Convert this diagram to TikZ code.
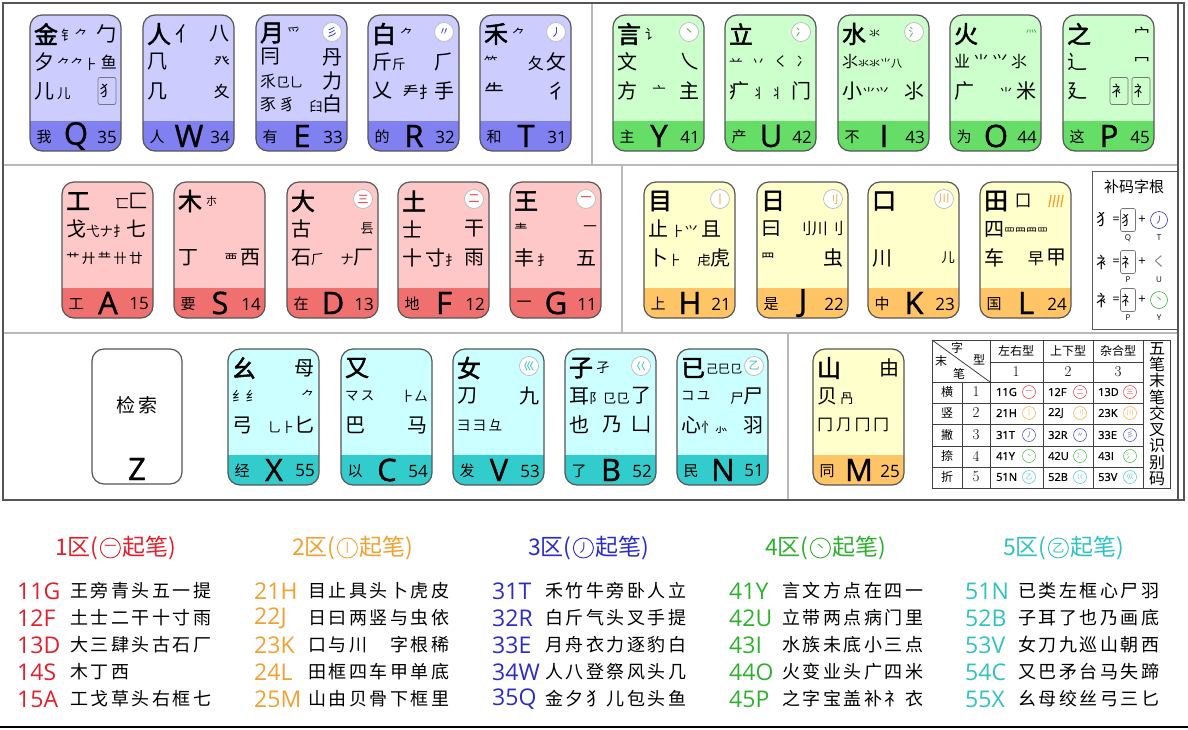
\documentclass[tikz,border=0pt]{standalone}
\usepackage{fontspec}
\usepackage{tikz}
\usetikzlibrary{positioning}

\newfontfamily\cjk{Noto Sans CJK SC}
\newfontfamily\cjkb{Noto Sans CJK SC}[FakeBold=2]
\newfontfamily\cjkw{Noto Sans CJK SC}[LetterSpace=14]
\newfontfamily\lat{Open Sans}
\newfontfamily\latb{Open Sans}[FakeBold=1]

% key colours: light face, dark band, stroke text
\definecolor{bluelt}{HTML}{CCCCFF}
\definecolor{bluedk}{HTML}{8080F0}
\definecolor{bluetx}{HTML}{2B2BC8}
\definecolor{grnlt}{HTML}{CCFFCC}
\definecolor{grndk}{HTML}{66DD66}
\definecolor{grntx}{HTML}{2DB02D}
\definecolor{redlt}{HTML}{FFC8C8}
\definecolor{reddk}{HTML}{F07070}
\definecolor{redtx}{HTML}{E41E2A}
\definecolor{ylwlt}{HTML}{FFFFCC}
\definecolor{ylwdk}{HTML}{FFC466}
\definecolor{ylwtx}{HTML}{F2A030}
\definecolor{cyanlt}{HTML}{CCFFFF}
\definecolor{cyandk}{HTML}{33CCCC}
\definecolor{cyantx}{HTML}{2EC2C0}
\definecolor{edge}{HTML}{555555}

\newcommand\rmd{\fontsize{16}{16}\selectfont}
\newcommand\rsm{\fontsize{13.5}{13.5}\selectfont}
\newcommand\rtn{\fontsize{11}{11}\selectfont}
\newcommand\rgap{\hspace{3pt}}

\tikzset{
  keyedge/.style={draw=edge, line width=1.2pt, rounded corners=12pt},
  keyword/.style={font=\cjk\fontsize{15}{15}\selectfont, inner sep=0pt},
  keyletter/.style={font=\latb\fontsize{31}{31}\selectfont, inner sep=0pt},
  keynum/.style={font=\lat\fontsize{17}{17}\selectfont, inner sep=0pt},
  big/.style={font=\cjkb\fontsize{24}{24}\selectfont, inner sep=0pt},
  rad/.style={font=\cjk\fontsize{20}{20}\selectfont, inner sep=0pt},
  lrad/.style={rad, anchor=west},
  rrad/.style={rad, anchor=east},
  boxrad/.style={rad, draw=edge!80, line width=0.7pt, rounded corners=2pt,
    minimum width=18pt, minimum height=27pt, font=\cjk\fontsize{15}{15}\selectfont},
  strk/.style={circle, draw=gray!55, fill=white, line width=0.7pt, minimum size=19pt,
    inner sep=0pt, font=\cjk\fontsize{11}{11}\selectfont, text=#1},
  sepline/.style={draw=gray!55, line width=1.3pt},
  frameline/.style={draw=edge, line width=1.5pt},
  tblline/.style={draw=black!75, line width=0.8pt},
  tcjk/.style={font=\cjk\fontsize{12}{12}\selectfont, inner sep=0pt},
  tnum/.style={font=\rmfamily\fontsize{15}{15}\selectfont, inner sep=0pt},
  tcode/.style={font=\latb\fontsize{11}{11}\selectfont, inner sep=0pt, anchor=west},
  tsym/.style={circle, draw=#1, text=#1, line width=0.6pt, minimum size=13pt,
    inner sep=0pt, font=\cjk\fontsize{7}{7}\selectfont},
  bmtext/.style={font=\lat\fontsize{13}{13}\selectfont, inner sep=0pt},
  bmkey/.style={font=\lat\fontsize{8}{8}\selectfont, inner sep=0pt},
  head/.style={font=\cjk\fontsize{23}{23}\selectfont, text=#1, inner sep=0pt},
  hsym/.style={circle, draw=#1, text=#1, line width=0.9pt, minimum size=20pt,
    inner sep=0pt, font=\cjk\fontsize{12}{12}\selectfont},
  hcode/.style={font=\lat\fontsize{23}{23}\selectfont, text=#1, inner sep=0pt, anchor=west},
  hdesc/.style={font=\cjkw\fontsize{18}{18}\selectfont, inner sep=0pt, anchor=west},
}

% one key: letter, x, y, palette, word, code, radicals
\newcommand\keycap[7]{%
  \begin{scope}[shift={(#2,#3)}]
    \fill[#4lt, rounded corners=12pt] (0,0) rectangle (91,136);
    \begin{scope}
      \clip[rounded corners=12pt] (0,0) rectangle (91,136);
      \fill[#4dk] (0,106) rectangle (91,136);
    \end{scope}
    \draw[keyedge] (0,0) rectangle (91,136);
    \node[keyword] (#1w) at (14,122) {#5};
    \node[keyletter] (#1) at (46,121) {#1};
    \node[keynum] (#1n) at (77,122) {#6};
    #7
  \end{scope}}

\begin{document}
\begin{tikzpicture}[x=1pt, y=-1pt]
    \useasboundingbox (0,0) rectangle (1188,729);

    % Frame and separators
    \draw[frameline] (3,3) rectangle (1184,500);
    \draw[frameline] (1178,3) -- (1178,500);
    \draw[sepline] (4,165) -- (1177,165);
    \draw[sepline] (4,333) -- (1177,333);
    \draw[sepline] (592,4) -- (592,165);
    \draw[sepline] (622,165) -- (622,333);
    \draw[sepline] (788,333) -- (788,499);

    % Top row
    \keycap{Q}{30}{15}{blue}{我}{35}{
      \node[big] (Qa) at (16,19) {金};
      \node[lrad] (Qb) at (31,20) {\rsm 钅⺈};
      \node[rrad] (Qc) at (87,19) {勹};
      \node[lrad] (Qd) at (4,47) {夕\rgap{\rsm ⺈⺈⺊}};
      \node[rrad] (Qe) at (87,47) {\rmd ⻥};
      \node[lrad] (Qf) at (4,76) {儿\rgap{\rsm 儿}};
      \node[boxrad] (Qg) at (77,76) {犭};}
    \keycap{W}{143}{15}{blue}{人}{34}{
      \node[big] (Wa) at (16,19) {人};
      \node[lrad] (Wb) at (32,19) {亻};
      \node[rrad] (Wc) at (87,19) {八};
      \node[lrad] (Wd) at (4,47) {⺇};
      \node[rrad] (We) at (87,47) {\rmd 癶};
      \node[lrad] (Wf) at (4,76) {几};
      \node[rrad] (Wg) at (87,76) {\rmd 夊};}
    \keycap{E}{256}{15}{blue}{有}{33}{
      \node[big] (Ea) at (16,18) {月};
      \node[lrad] (Eb) at (31,18) {\rsm ⺤};
      \node[strk=bluetx] (Ec) at (76,17) {彡};
      \node[lrad] (Ed) at (4,42) {冃};
      \node[rrad] (Ee) at (87,42) {丹};
      \node[lrad] (Ef) at (4,66) {\rmd 乑{\rsm ⺋⺃}};
      \node[rrad] (Eg) at (87,66) {力};
      \node[lrad] (Eh) at (4,89) {\rmd 豕\rgap 豸};
      \node[rrad] (Ei) at (87,89) {{\rsm ⺽}白};}
    \keycap{R}{368}{15}{blue}{的}{32}{
      \node[big] (Ra) at (16,19) {白};
      \node[lrad] (Rb) at (32,19) {\rsm ⺈};
      \node[strk=bluetx] (Rc) at (76,17) {〃};
      \node[lrad] (Rd) at (4,47) {斤{\rsm 斤}};
      \node[rrad] (Re) at (87,47) {⺁};
      \node[lrad] (Rf) at (4,76) {乂};
      \node[rrad] (Rg) at (87,76) {{\rmd 龵扌}手};}
    \keycap{T}{480}{15}{blue}{和}{31}{
      \node[big] (Ta) at (16,19) {禾};
      \node[lrad] (Tb) at (32,19) {\rsm ⺈};
      \node[strk=bluetx] (Tc) at (76,17) {丿};
      \node[lrad] (Td) at (4,47) {\rsm ⺮};
      \node[rrad] (Te) at (87,47) {{\rmd 夂}\rgap 攵};
      \node[lrad] (Tf) at (4,76) {⺧};
      \node[rrad] (Tg) at (87,76) {彳};}
    \keycap{Y}{613}{15}{grn}{主}{41}{
      \node[big] (Ya) at (16,19) {言};
      \node[lrad] (Yb) at (32,19) {\rsm 讠};
      \node[strk=grntx] (Yc) at (76,17) {丶};
      \node[lrad] (Yd) at (4,47) {文};
      \node[rrad] (Ye) at (87,47) {乀};
      \node[lrad] (Yf) at (4,76) {方};
      \node[rad] (Yg) at (46,76) {\rsm 亠};
      \node[rrad] (Yh) at (87,76) {主};}
    \keycap{U}{725}{15}{grn}{产}{42}{
      \node[big] (Ua) at (16,19) {立};
      \node[strk=grntx] (Ub) at (76,17) {冫};
      \node[lrad] (Uc) at (4,47) {\rsm 䒑\hspace{9pt}丷\hspace{9pt}く\hspace{9pt}冫};
      \node[lrad] (Ud) at (4,76) {疒\rgap{\rsm 丬\hspace{5pt}丬}};
      \node[rrad] (Ue) at (87,76) {门};}
    \keycap{I}{838}{15}{grn}{不}{43}{
      \node[big] (Ia) at (16,19) {水};
      \node[lrad] (Ib) at (31,19) {\rtn 氺};
      \node[strk=grntx] (Ic) at (76,17) {氵};
      \node[lrad] (Id) at (4,47) {{\rmd ⺢}{\rtn 氺氺⺌八}};
      \node[lrad] (Ie) at (4,76) {小{\rsm ⺌⺍}};
      \node[rrad] (If) at (87,76) {⺢};}
    \keycap{O}{950}{15}{grn}{为}{44}{
      \node[big] (Oa) at (16,19) {火};
      \node[rrad] (Ob) at (87,17) {\rtn\color{grntx}灬};
      \node[lrad] (Oc) at (4,47) {\rmd 业\rgap⺌\rgap⺍\rgap⺢};
      \node[lrad] (Od) at (4,76) {广};
      \node[rrad] (Oe) at (87,76) {{\rsm ⺌}\hspace{4pt}米};}
    \keycap{P}{1063}{15}{grn}{这}{45}{
      \node[big] (Pa) at (16,19) {之};
      \node[rrad] (Pb) at (87,19) {\rmd 宀};
      \node[lrad] (Pc) at (4,47) {辶};
      \node[rrad] (Pd) at (87,47) {\rmd 冖};
      \node[lrad] (Pe) at (4,76) {廴};
      \node[boxrad] (Pf) at (56,76) {衤};
      \node[boxrad] (Pg) at (78,76) {礻};}

    % Middle row
    \keycap{A}{62}{182}{red}{工}{15}{
      \node[big] (Aa) at (16,19) {工};
      \node[rrad] (Ab) at (87,19) {{\rsm 匸}匚};
      \node[lrad] (Ac) at (4,47) {戈{\rsm 弋ナ⺘}七};
      \node[lrad] (Ad) at (4,76) {\rsm 艹\,廾\,龷\,卄\,廿};}
    \keycap{S}{174}{182}{red}{要}{14}{
      \node[big] (Sa) at (16,19) {木};
      \node[lrad] (Sb) at (32,19) {\rtn 朩};
      \node[lrad] (Sc) at (4,76) {丁};
      \node[rrad] (Sd) at (87,76) {{\rsm 覀}\rgap 西};}
    \keycap{D}{287}{182}{red}{在}{13}{
      \node[big] (Da) at (16,19) {大};
      \node[strk=redtx] (Db) at (76,17) {三};
      \node[lrad] (Dc) at (4,47) {古};
      \node[rrad] (Dd) at (87,47) {\rsm 镸};
      \node[lrad] (De) at (4,76) {石{\rsm ⺁}};
      \node[rrad] (Df) at (87,76) {{\rsm ナ}厂};}
    \keycap{F}{398}{182}{red}{地}{12}{
      \node[big] (Fa) at (16,19) {土};
      \node[strk=redtx] (Fb) at (76,17) {二};
      \node[lrad] (Fc) at (4,47) {士};
      \node[rrad] (Fd) at (87,47) {干};
      \node[lrad] (Fe) at (4,76) {十\rgap 寸{\rsm 扌}};
      \node[rrad] (Ff) at (87,76) {雨};}
    \keycap{G}{510}{182}{red}{一}{11}{
      \node[big] (Ga) at (16,19) {王};
      \node[strk=redtx] (Gb) at (76,17) {一};
      \node[lrad] (Gc) at (4,47) {\rsm 龶};
      \node[rrad] (Gd) at (87,47) {\rsm 一};
      \node[lrad] (Ge) at (4,76) {丰\rgap{\rsm ⺘}};
      \node[rrad] (Gf) at (87,76) {五};}
    \keycap{H}{644}{182}{ylw}{上}{21}{
      \node[big] (Ha) at (16,19) {目};
      \node[strk=ylwtx] (Hb) at (76,17) {丨};
      \node[lrad] (Hc) at (4,47) {止\rgap{\rsm ⺊⺍}\rgap 且};
      \node[lrad] (Hd) at (4,76) {卜{\rsm ⺊}};
      \node[rrad] (He) at (87,76) {{\rsm 虍}⻁};}
    \keycap{J}{757}{182}{ylw}{是}{22}{
      \node[big] (Ja) at (16,19) {日};
      \node[strk=ylwtx] (Jb) at (76,17) {刂};
      \node[lrad] (Jc) at (4,47) {曰};
      \node[rrad] (Jd) at (87,47) {\rmd 刂川刂};
      \node[lrad] (Je) at (4,76) {\rsm ⺫};
      \node[rrad] (Jf) at (87,76) {虫};}
    \keycap{K}{868}{182}{ylw}{中}{23}{
      \node[big] (Ka) at (16,19) {口};
      \node[strk=ylwtx] (Kb) at (76,17) {川};
      \node[lrad] (Kc) at (4,76) {川};
      \node[rrad] (Kd) at (87,76) {\rsm 儿};}
    \keycap{L}{980}{182}{ylw}{国}{24}{
      \node[big] (La) at (16,19) {田};
      \node[rad] (Lb) at (43,19) {\rmd 囗};
      \draw[ylwtx, line width=1.3pt] (69,25) -- (71,13) (73,25) -- (75,13) (77,25) -- (79,13) (81,25) -- (83,13);
      \node[lrad] (Lc) at (4,47) {四{\rtn 罒⺲⺫罒}};
      \node[lrad] (Ld) at (4,76) {车};
      \node[rrad] (Le) at (87,76) {{\rmd 早}\rgap 甲};}

    % Supplement radicals
    \draw[frameline, line width=1pt] (1092,171) rectangle (1177,329);
    \node[font=\cjk\fontsize{15}{15}\selectfont, inner sep=0pt] (bmt) at (1134,187) {补码字根};
    \node[rad, font=\cjk\rmd] (bm1a) at (1104,220) {犭};
    \node[bmtext] (bm1b) at (1116,220) {=};
    \node[boxrad, minimum width=15pt, minimum height=23pt, font=\cjk\rsm] (bm1c) at (1128,220) {犭};
    \node[bmtext] (bm1d) at (1142,220) {+};
    \node[tsym=bluetx, minimum size=17pt, font=\cjk\fontsize{9}{9}\selectfont] (bm1e) at (1159,220) {丿};
    \node[bmkey] (bm1f) at (1128,238) {Q};
    \node[bmkey] (bm1g) at (1159,238) {T};
    \node[rad, font=\cjk\rmd] (bm2a) at (1104,262) {衤};
    \node[bmtext] (bm2b) at (1116,262) {=};
    \node[boxrad, minimum width=15pt, minimum height=23pt, font=\cjk\rsm] (bm2c) at (1128,262) {礻};
    \node[bmtext] (bm2d) at (1142,262) {+};
    \node[font=\cjk\rsm, text=gray, inner sep=0pt] (bm2e) at (1159,262) {く};
    \node[bmkey] (bm2f) at (1128,280) {P};
    \node[bmkey] (bm2g) at (1159,280) {U};
    \node[rad, font=\cjk\rmd] (bm3a) at (1104,300) {衤};
    \node[bmtext] (bm3b) at (1116,300) {=};
    \node[boxrad, minimum width=15pt, minimum height=23pt, font=\cjk\rsm] (bm3c) at (1128,300) {礻};
    \node[bmtext] (bm3d) at (1142,300) {+};
    \node[tsym=grntx, minimum size=17pt, font=\cjk\fontsize{9}{9}\selectfont] (bm3e) at (1159,300) {丶};
    \node[bmkey] (bm3f) at (1128,318) {P};
    \node[bmkey] (bm3g) at (1159,318) {Y};

    % Bottom row
    \begin{scope}[shift={(92,349)}]
      \fill[white, rounded corners=12pt] (0,0) rectangle (90,135);
      \draw[keyedge] (0,0) rectangle (90,135);
      \node[font=\cjk\fontsize{19}{19}\selectfont, inner sep=0pt] (Zt) at (45,56) {检\hspace{4pt}索};
      \node[keyletter] (Z) at (45,120) {Z};
    \end{scope}
    \keycap{X}{228}{349}{cyan}{经}{55}{
      \node[big] (Xa) at (16,19) {幺};
      \node[rrad] (Xb) at (87,19) {母};
      \node[lrad] (Xc) at (4,47) {\rsm 纟纟};
      \node[rrad] (Xd) at (87,47) {\rsm ⺈};
      \node[lrad] (Xe) at (4,76) {弓};
      \node[rrad] (Xf) at (87,76) {{\rsm 乚⺊}匕};}
    \keycap{C}{341}{349}{cyan}{以}{54}{
      \node[big] (Ca) at (16,19) {又};
      \node[lrad] (Cb) at (4,47) {\rsm マ\,ス};
      \node[rrad] (Cc) at (87,47) {\rsm ⺊厶};
      \node[lrad] (Cd) at (4,76) {巴};
      \node[rrad] (Ce) at (87,76) {马};}
    \keycap{V}{453}{349}{cyan}{发}{53}{
      \node[big] (Va) at (16,19) {女};
      \node[strk=cyantx] (Vb) at (76,17) {巛};
      \node[lrad] (Vc) at (4,47) {刀};
      \node[rrad] (Vd) at (87,47) {九};
      \node[lrad] (Ve) at (4,76) {\rsm 彐\,⺕\,⺔};}
    \keycap{B}{565}{349}{cyan}{了}{52}{
      \node[big] (Ba) at (16,19) {子};
      \node[lrad] (Bb) at (31,19) {\rsm 孑};
      \node[strk=cyantx] (Bc) at (76,17) {巜};
      \node[lrad] (Bd) at (4,47) {耳{\rsm 阝㔾⺋}};
      \node[rrad] (Be) at (87,47) {了};
      \node[lrad] (Bf) at (4,76) {也};
      \node[rad] (Bg) at (47,76) {乃};
      \node[rrad] (Bh) at (87,76) {凵};}
    \keycap{N}{677}{349}{cyan}{民}{51}{
      \node[big] (Na) at (16,19) {已};
      \node[lrad] (Nb) at (29,20) {\fontsize{12}{12}\selectfont 己巳⺋};
      \node[strk=cyantx] (Nc) at (77,17) {乙};
      \node[lrad] (Nd) at (4,47) {\rsm コ\,ユ};
      \node[rrad] (Ne) at (87,47) {{\rsm 尸}尸};
      \node[lrad] (Nf) at (4,76) {心{\rsm 忄⺗}};
      \node[rrad] (Ng) at (87,76) {羽};}
    \keycap{M}{813}{349}{ylw}{同}{25}{
      \node[big] (Ma) at (16,19) {山};
      \node[rrad] (Mb) at (87,19) {由};
      \node[lrad] (Mc) at (4,47) {贝\rgap{\rsm 冎}};
      \node[lrad] (Md) at (4,76) {\rmd 冂\,⺆\,冂\,冂};}

    % Last-stroke table
    \draw[tblline] (932,340) rectangle (1170,488);
    \draw[tblline] (990,340) -- (990,488) (1043,340) -- (1043,488) (1093,340) -- (1093,488)
      (1143,340) -- (1143,488) (962,382) -- (962,488);
    \draw[tblline] (990,362) -- (1143,362) (932,382) -- (1143,382) (932,403) -- (1143,403)
      (932,424) -- (1143,424) (932,446) -- (1143,446) (932,467) -- (1143,467);
    \draw[tblline] (932,340) -- (990,382);
    \node[tcjk] (tz) at (957,348) {字};
    \node[tcjk] (tx) at (979,360) {型};
    \node[tcjk] (tm) at (941,361) {末};
    \node[tcjk] (tb) at (959,374) {笔};
    \node[tcjk] (th1) at (1016,351) {左右型};
    \node[tcjk] (th2) at (1068,351) {上下型};
    \node[tcjk] (th3) at (1118,351) {杂合型};
    \node[tnum] (tn1) at (1016,372) {1};
    \node[tnum] (tn2) at (1068,372) {2};
    \node[tnum] (tn3) at (1118,372) {3};
    \node[tcjk] (tr1) at (947,392) {横};
    \node[tcjk] (tr2) at (947,413) {竖};
    \node[tcjk] (tr3) at (947,435) {撇};
    \node[tcjk] (tr4) at (947,456) {捺};
    \node[tcjk] (tr5) at (947,477) {折};
    \node[tnum] (ti1) at (976,392) {1};
    \node[tnum] (ti2) at (976,413) {2};
    \node[tnum] (ti3) at (976,435) {3};
    \node[tnum] (ti4) at (976,456) {4};
    \node[tnum] (ti5) at (976,477) {5};
    \node[tcode] (c11) at (996,392) {11G};
    \node[tsym=redtx!80] (s11) at (1029,392) {一};
    \node[tcode] (c12) at (1048,392) {12F};
    \node[tsym=redtx!80] (s12) at (1080,392) {二};
    \node[tcode] (c13) at (1098,392) {13D};
    \node[tsym=redtx!80] (s13) at (1130,392) {三};
    \node[tcode] (c21) at (996,413) {21H};
    \node[tsym=ylwtx!80] (s21) at (1029,413) {丨};
    \node[tcode] (c22) at (1048,413) {22J};
    \node[tsym=ylwtx!80] (s22) at (1080,413) {刂};
    \node[tcode] (c23) at (1098,413) {23K};
    \node[tsym=ylwtx!80] (s23) at (1130,413) {川};
    \node[tcode] (c31) at (996,435) {31T};
    \node[tsym=bluetx!80] (s31) at (1029,435) {丿};
    \node[tcode] (c32) at (1048,435) {32R};
    \node[tsym=bluetx!80] (s32) at (1080,435) {〃};
    \node[tcode] (c33) at (1098,435) {33E};
    \node[tsym=bluetx!80] (s33) at (1130,435) {彡};
    \node[tcode] (c41) at (996,456) {41Y};
    \node[tsym=grntx!80] (s41) at (1029,456) {丶};
    \node[tcode] (c42) at (1048,456) {42U};
    \node[tsym=grntx!80] (s42) at (1080,456) {冫};
    \node[tcode] (c43) at (1098,456) {43I};
    \node[tsym=grntx!80] (s43) at (1130,456) {氵};
    \node[tcode] (c51) at (996,477) {51N};
    \node[tsym=cyantx!80] (s51) at (1029,477) {乙};
    \node[tcode] (c52) at (1048,477) {52B};
    \node[tsym=cyantx!80] (s52) at (1080,477) {巜};
    \node[tcode] (c53) at (1098,477) {53V};
    \node[tsym=cyantx!80] (s53) at (1130,477) {巛};
    \node[font=\cjk\fontsize{16}{16.3}\selectfont, align=center, inner sep=0pt] (tvert) at (1157,414)
      {五\\笔\\末\\笔\\交\\叉\\识\\别\\码};

    % Zone headings
    \node[head=redtx, anchor=west] (h1a) at (55,548) {1区(};
    \node[hsym=redtx, right=1pt of h1a] (h1b) {一};
    \node[head=redtx, right=1pt of h1b] (h1c) {起笔)};
    \node[head=ylwtx, anchor=west] (h2a) at (292,548) {2区(};
    \node[hsym=ylwtx, right=1pt of h2a] (h2b) {丨};
    \node[head=ylwtx, right=1pt of h2b] (h2c) {起笔)};
    \node[head=bluetx, anchor=west] (h3a) at (528,548) {3区(};
    \node[hsym=bluetx, right=1pt of h3a] (h3b) {丿};
    \node[head=bluetx, right=1pt of h3b] (h3c) {起笔)};
    \node[head=grntx, anchor=west] (h4a) at (765,548) {4区(};
    \node[hsym=grntx, right=1pt of h4a] (h4b) {丶};
    \node[head=grntx, right=1pt of h4b] (h4c) {起笔)};
    \node[head=cyantx, anchor=west] (h5a) at (1003,548) {5区(};
    \node[hsym=cyantx, right=1pt of h5a] (h5b) {乙};
    \node[head=cyantx, right=1pt of h5b] (h5c) {起笔)};

    % Mnemonic lines
    \node[hcode=redtx] (k11) at (17,591) {11G};
    \node[hdesc] (m11) at (70,591) {王旁青头五一提};
    \node[hcode=redtx] (k12) at (17,618) {12F};
    \node[hdesc] (m12) at (70,618) {土士二干十寸雨};
    \node[hcode=redtx] (k13) at (17,645) {13D};
    \node[hdesc] (m13) at (70,645) {大三肆头古石厂};
    \node[hcode=redtx] (k14) at (17,672) {14S};
    \node[hdesc] (m14) at (70,672) {木丁西};
    \node[hcode=redtx] (k15) at (17,699) {15A};
    \node[hdesc] (m15) at (70,699) {工戈草头右框七};

    \node[hcode=ylwtx] (k21) at (254,591) {21H};
    \node[hdesc] (m21) at (308,591) {目止具头卜虎皮};
    \node[hcode=ylwtx] (k22) at (254,618) {22J};
    \node[hdesc] (m22) at (308,618) {日曰两竖与虫依};
    \node[hcode=ylwtx] (k23) at (254,645) {23K};
    \node[hdesc] (m23) at (308,645) {口与川　字根稀};
    \node[hcode=ylwtx] (k24) at (254,672) {24L};
    \node[hdesc] (m24) at (308,672) {田框四车甲单底};
    \node[hcode=ylwtx] (k25) at (254,699) {25M};
    \node[hdesc] (m25) at (308,699) {山由贝骨下框里};

    \node[hcode=bluetx] (k31) at (492,591) {31T};
    \node[hdesc] (m31) at (545,591) {禾竹牛旁卧人立};
    \node[hcode=bluetx] (k32) at (492,618) {32R};
    \node[hdesc] (m32) at (545,618) {白斤气头叉手提};
    \node[hcode=bluetx] (k33) at (492,645) {33E};
    \node[hdesc] (m33) at (545,645) {月舟衣力逐豹白};
    \node[hcode=bluetx] (k34) at (492,672) {34W};
    \node[hdesc] (m34) at (545,672) {人八登祭风头几};
    \node[hcode=bluetx] (k35) at (492,699) {35Q};
    \node[hdesc] (m35) at (545,699) {金夕犭儿包头鱼};

    \node[hcode=grntx] (k41) at (729,591) {41Y};
    \node[hdesc] (m41) at (782,591) {言文方点在四一};
    \node[hcode=grntx] (k42) at (729,618) {42U};
    \node[hdesc] (m42) at (782,618) {立带两点病门里};
    \node[hcode=grntx] (k43) at (729,645) {43I};
    \node[hdesc] (m43) at (782,645) {水族未底小三点};
    \node[hcode=grntx] (k44) at (729,672) {44O};
    \node[hdesc] (m44) at (782,672) {火变业头广四米};
    \node[hcode=grntx] (k45) at (729,699) {45P};
    \node[hdesc] (m45) at (782,699) {之字宝盖补礻衣};

    \node[hcode=cyantx] (k51) at (965,591) {51N};
    \node[hdesc] (m51) at (1018,591) {已类左框心尸羽};
    \node[hcode=cyantx] (k52) at (965,618) {52B};
    \node[hdesc] (m52) at (1018,618) {子耳了也乃画底};
    \node[hcode=cyantx] (k53) at (965,645) {53V};
    \node[hdesc] (m53) at (1018,645) {女刀九巡山朝西};
    \node[hcode=cyantx] (k54) at (965,672) {54C};
    \node[hdesc] (m54) at (1018,672) {又巴矛台马失蹄};
    \node[hcode=cyantx] (k55) at (965,699) {55X};
    \node[hdesc] (m55) at (1018,699) {幺母绞丝弓三匕};

    \draw[line width=2pt] (0,727) -- (1188,727);

\end{tikzpicture}
\end{document}
